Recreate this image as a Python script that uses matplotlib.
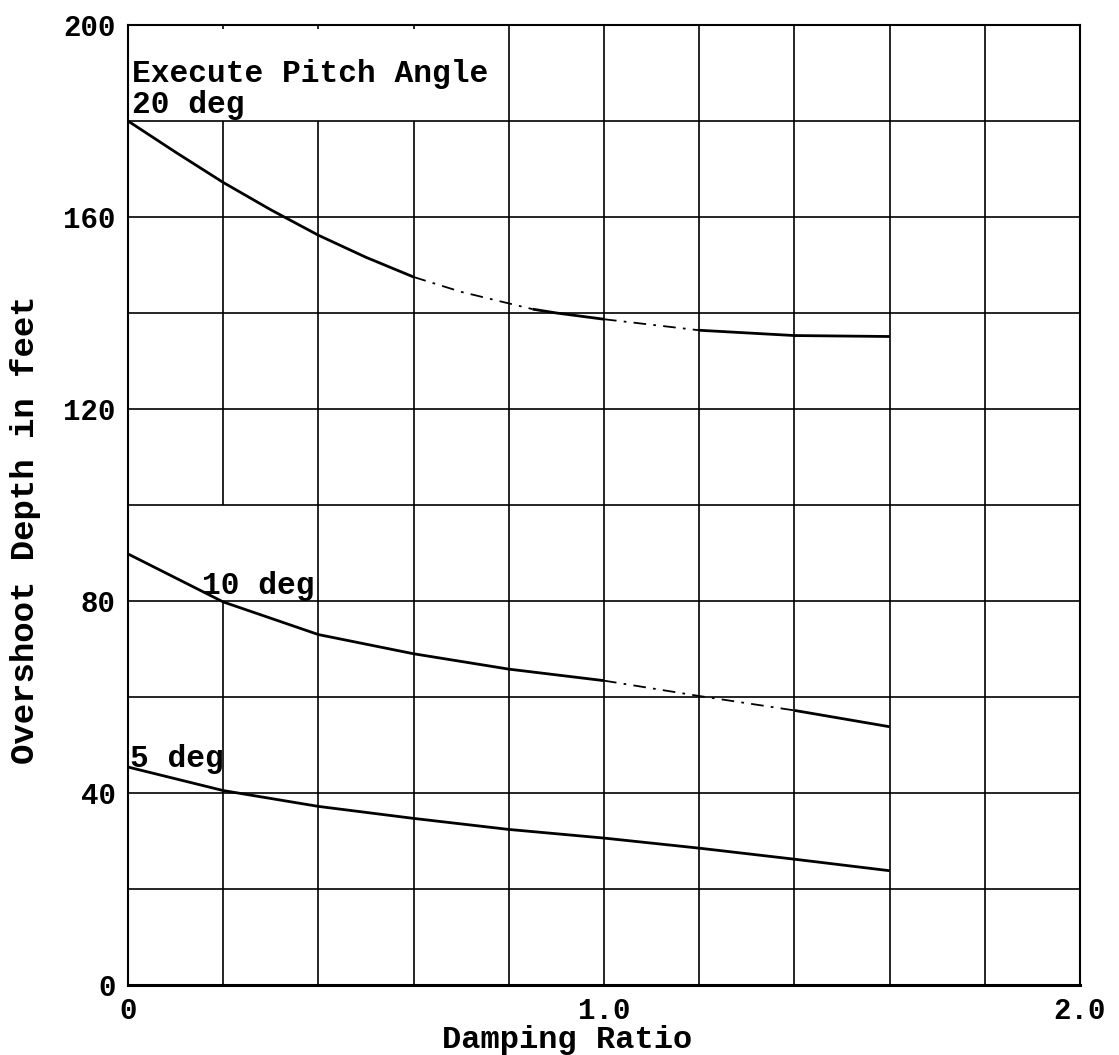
import numpy as np
import matplotlib
matplotlib.use('Agg')
import matplotlib.pyplot as plt

# Overshoot depth (ft) against damping ratio for three execute pitch angles
zeta_20 = [0.0, 0.1, 0.2, 0.3, 0.4, 0.5, 0.6, 0.7, 0.8, 0.85, 0.9, 1.0, 1.2, 1.4, 1.6]
depth_20 = [180.0, 173.5, 167.2, 161.5, 156.2, 151.6, 147.5, 144.4, 142.0, 140.8,
            140.0, 138.7, 136.4, 135.3, 135.1]

zeta_10 = [0.0, 0.15, 0.2, 0.4, 0.6, 0.8, 1.0, 1.2, 1.4, 1.6]
depth_10 = [89.8, 82.3, 79.8, 73.0, 69.0, 65.8, 63.4, 60.2, 57.2, 53.8]

zeta_5 = [0.0, 0.2, 0.4, 0.6, 0.8, 1.0, 1.2, 1.4, 1.6]
depth_5 = [45.4, 40.5, 37.2, 34.7, 32.4, 30.6, 28.5, 26.2, 23.8]

# stretches of each trace where the ink is broken up
faint_20 = [(0.6, 0.85), (1.0, 1.2)]
faint_10 = [(1.0, 1.4)]
faint_5 = []

y_ticks = [0, 40, 80, 120, 160, 200]
x_ticks = [0.0, 1.0, 2.0]
x_tick_labels = ['0', '1.0', '2.0']

FONT = 'Liberation Mono'


def draw_curve(ax, x, y, faint):
    x = np.asarray(x)
    y = np.asarray(y)
    edges = sorted({x[0], x[-1], *[e for r in faint for e in r]})
    for a, b in zip(edges[:-1], edges[1:]):
        m = (x >= a - 1e-9) & (x <= b + 1e-9)
        broken = any(abs(a - r[0]) < 1e-9 for r in faint)
        if broken:
            ax.plot(x[m], y[m], color='black', lw=1.3,
                    ls=(0, (7, 4, 1.5, 4)), zorder=3)
        else:
            ax.plot(x[m], y[m], color='black', lw=2.0, zorder=3,
                    solid_capstyle='butt', solid_joinstyle='round')


fig = plt.figure(figsize=(11.19, 10.55), dpi=100)
ax = fig.add_axes([0.1144, 0.0664, 0.8507, 0.9099])
ax.set_xlim(0, 2.0)
ax.set_ylim(0, 200)

# hand-ruled grid: some cells are left open for the labels
for v in range(20, 200, 20):
    ax.hlines(v, 0, 2.0, color='black', lw=1.2, zorder=1)

gaps = {0.2: [(80, 100), (180, 199.2)], 0.4: [(180, 199.2)], 0.6: [(180, 199.2)]}
for i in range(1, 10):
    xv = round(0.2 * i, 1)
    lo = 0
    for g0, g1 in sorted(gaps.get(xv, [])):
        ax.vlines(xv, lo, g0, color='black', lw=1.2, zorder=1)
        lo = g1
    ax.vlines(xv, lo, 200, color='black', lw=1.2, zorder=1)

for side in ['left', 'right', 'top']:
    ax.spines[side].set_linewidth(1.5)
ax.spines['bottom'].set_linewidth(2.2)

draw_curve(ax, zeta_20, depth_20, faint_20)
draw_curve(ax, zeta_10, depth_10, faint_10)
draw_curve(ax, zeta_5, depth_5, faint_5)

txt = dict(family=FONT, fontsize=22.5, fontweight='bold', color='black',
           va='baseline', ha='left')
ax.text(0.008, 188.2, 'Execute Pitch Angle', **txt)
ax.text(0.008, 181.6, '20 deg', **txt)
ax.text(0.155, 81.4, '10 deg', **txt)
ax.text(0.005, 45.4, '5 deg', **txt)

ax.set_yticks(y_ticks)
ax.set_xticks(x_ticks)
ax.set_xticklabels(x_tick_labels)
ax.tick_params(length=0, labelsize=21, pad=9)
for lab in ax.get_xticklabels() + ax.get_yticklabels():
    lab.set_family(FONT)
    lab.set_fontweight('bold')

ax.set_xlabel('Damping Ratio', family=FONT, fontsize=23, fontweight='bold')
ax.xaxis.set_label_coords(0.461, -0.042)
ax.set_ylabel('Overshoot Depth in feet', family=FONT, fontsize=24.5,
              fontweight='bold')
ax.yaxis.set_label_coords(-0.0914, 0.474)

fig.savefig('out.png', dpi=100)
